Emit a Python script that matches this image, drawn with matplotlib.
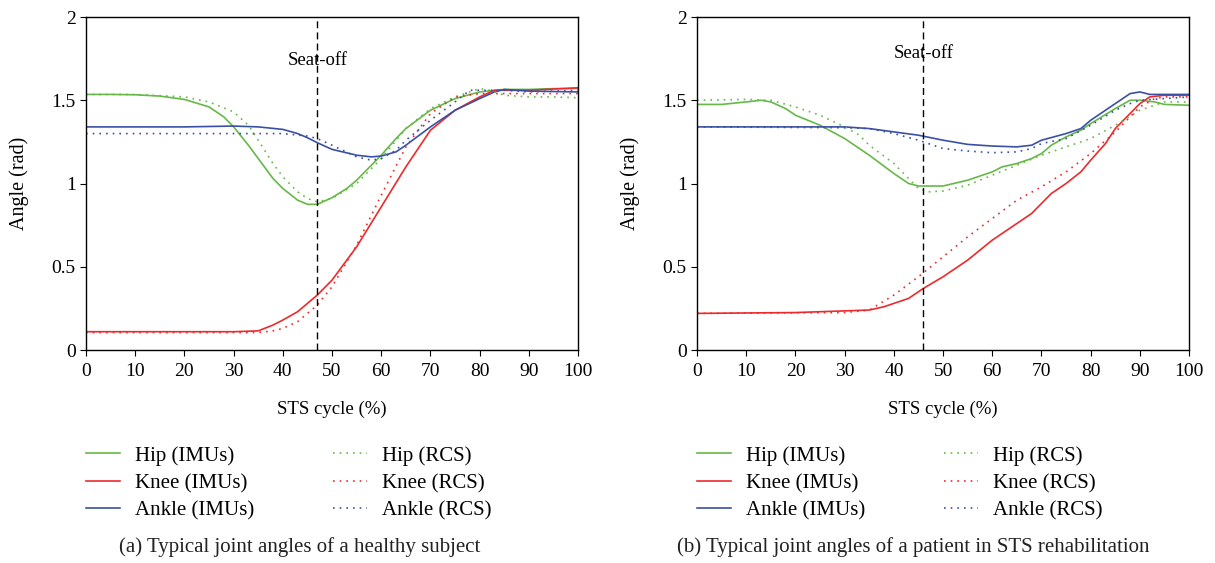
import matplotlib.pyplot as plt

plt.rcParams["font.family"] = ["Liberation Serif", "DejaVu Serif"]
plt.rcParams["font.size"] = 14

GREEN = "#66b847"
RED = "#ec2a2c"
BLUE = "#3a50a4"

# (a) healthy subject
a_hip_imu_x = [0, 5, 10, 15, 20, 25, 28, 30, 33, 35, 38, 40, 43, 45, 47, 50, 53, 55, 58, 60, 63, 65, 70, 75, 80, 85, 90, 95, 100]
a_hip_imu_y = [1.535, 1.535, 1.533, 1.525, 1.505, 1.46, 1.40, 1.34, 1.23, 1.15, 1.03, 0.97, 0.90, 0.875, 0.875, 0.915, 0.97, 1.02, 1.11, 1.17, 1.27, 1.33, 1.44, 1.51, 1.55, 1.565, 1.565, 1.57, 1.57]
a_hip_rcs_x = [0, 10, 20, 25, 30, 33, 35, 38, 40, 43, 45, 47, 50, 55, 60, 65, 70, 75, 80, 82, 85, 90, 95, 100]
a_hip_rcs_y = [1.535, 1.535, 1.52, 1.49, 1.43, 1.35, 1.26, 1.12, 1.04, 0.95, 0.91, 0.89, 0.91, 1.00, 1.15, 1.33, 1.45, 1.52, 1.57, 1.56, 1.53, 1.52, 1.52, 1.515]
a_knee_imu_x = [0, 10, 20, 30, 35, 38, 40, 43, 45, 47, 50, 55, 60, 65, 70, 75, 80, 83, 90, 100]
a_knee_imu_y = [0.11, 0.11, 0.11, 0.11, 0.115, 0.15, 0.18, 0.23, 0.28, 0.33, 0.42, 0.62, 0.86, 1.10, 1.32, 1.44, 1.52, 1.56, 1.56, 1.575]
a_knee_rcs_x = [0, 10, 20, 30, 35, 38, 40, 43, 45, 47, 50, 55, 60, 65, 70, 75, 80, 85, 90, 100]
a_knee_rcs_y = [0.105, 0.105, 0.105, 0.105, 0.105, 0.115, 0.13, 0.17, 0.22, 0.27, 0.38, 0.63, 0.93, 1.22, 1.42, 1.52, 1.54, 1.54, 1.54, 1.54]
a_ankle_imu_x = [0, 10, 20, 30, 35, 40, 43, 45, 47, 50, 55, 58, 60, 63, 65, 70, 75, 80, 83, 85, 90, 100]
a_ankle_imu_y = [1.34, 1.34, 1.34, 1.345, 1.34, 1.325, 1.30, 1.275, 1.245, 1.205, 1.17, 1.16, 1.165, 1.19, 1.23, 1.34, 1.44, 1.51, 1.55, 1.565, 1.555, 1.55]
a_ankle_rcs_x = [0, 10, 20, 30, 40, 45, 47, 50, 55, 58, 60, 63, 65, 70, 75, 78, 80, 85, 90, 100]
a_ankle_rcs_y = [1.30, 1.30, 1.30, 1.30, 1.30, 1.285, 1.27, 1.23, 1.16, 1.14, 1.15, 1.20, 1.26, 1.38, 1.49, 1.56, 1.56, 1.56, 1.55, 1.56]
a_seat_off = 47

# (b) patient in STS rehabilitation
b_hip_imu_x = [0, 5, 10, 13, 15, 18, 20, 25, 30, 35, 40, 43, 45, 50, 55, 60, 62, 65, 68, 70, 72, 75, 78, 80, 85, 88, 90, 93, 95, 100]
b_hip_imu_y = [1.475, 1.475, 1.49, 1.50, 1.49, 1.45, 1.41, 1.35, 1.27, 1.17, 1.06, 1.00, 0.985, 0.985, 1.02, 1.07, 1.10, 1.12, 1.15, 1.18, 1.23, 1.28, 1.32, 1.36, 1.45, 1.50, 1.50, 1.49, 1.475, 1.47]
b_hip_rcs_x = [0, 10, 15, 20, 25, 30, 33, 35, 40, 43, 45, 47, 50, 55, 60, 65, 70, 75, 80, 85, 90, 95, 100]
b_hip_rcs_y = [1.50, 1.505, 1.50, 1.46, 1.41, 1.34, 1.29, 1.23, 1.12, 1.03, 0.97, 0.95, 0.955, 0.99, 1.05, 1.11, 1.17, 1.22, 1.27, 1.35, 1.44, 1.49, 1.49]
b_knee_imu_x = [0, 20, 30, 35, 38, 40, 43, 46, 50, 55, 60, 65, 68, 70, 72, 75, 78, 80, 83, 85, 88, 90, 92, 95, 100]
b_knee_imu_y = [0.22, 0.225, 0.235, 0.24, 0.26, 0.28, 0.31, 0.37, 0.44, 0.54, 0.66, 0.76, 0.82, 0.88, 0.94, 1.00, 1.07, 1.14, 1.24, 1.33, 1.42, 1.48, 1.52, 1.53, 1.53]
b_knee_rcs_x = [0, 30, 35, 40, 45, 50, 55, 60, 65, 70, 75, 80, 85, 88, 90, 93, 95, 100]
b_knee_rcs_y = [0.22, 0.225, 0.24, 0.33, 0.44, 0.56, 0.68, 0.79, 0.90, 0.98, 1.07, 1.18, 1.31, 1.40, 1.46, 1.51, 1.52, 1.52]
b_ankle_imu_x = [0, 20, 30, 35, 40, 45, 50, 55, 60, 65, 68, 70, 75, 78, 80, 85, 88, 90, 92, 95, 100]
b_ankle_imu_y = [1.34, 1.34, 1.34, 1.33, 1.31, 1.29, 1.26, 1.235, 1.225, 1.22, 1.23, 1.26, 1.30, 1.33, 1.38, 1.48, 1.54, 1.55, 1.535, 1.535, 1.535]
b_ankle_rcs_x = [0, 30, 35, 40, 45, 50, 55, 60, 65, 68, 70, 75, 80, 85, 88, 90, 95, 100]
b_ankle_rcs_y = [1.34, 1.335, 1.33, 1.30, 1.26, 1.21, 1.195, 1.185, 1.19, 1.21, 1.24, 1.27, 1.35, 1.44, 1.48, 1.50, 1.51, 1.52]
b_seat_off = 46

xticks = list(range(0, 101, 10))
yticks = [0, 0.5, 1, 1.5, 2]
ytick_labels = ["0", "0.5", "1", "1.5", "2"]
captions = [
    "(a) Typical joint angles of a healthy subject",
    "(b) Typical joint angles of a patient in STS rehabilitation",
]

DOT = (0, (1, 3))


def draw_panel(ax, series, seat_off, seat_y):
    for x, y, color, style, label in series:
        ax.plot(x, y, color=color, linestyle=style, linewidth=1.2, label=label)
    ax.axvline(seat_off, color="black", linestyle=(0, (5, 3)), linewidth=1.0)
    ax.text(seat_off, seat_y, "Seat-off", ha="center", va="center", fontsize=13.5)
    ax.set_xlim(0, 100)
    ax.set_ylim(0, 2)
    ax.set_xticks(xticks)
    ax.set_yticks(yticks)
    ax.set_yticklabels(ytick_labels)
    ax.set_xlabel("STS cycle (%)", fontsize=13.5, labelpad=15)
    ax.set_ylabel("Angle (rad)", fontsize=14.5, labelpad=16)
    ax.tick_params(direction="out", length=4, width=0.8, labelsize=14)
    ax.tick_params(axis="x", pad=5)
    for spine in ax.spines.values():
        spine.set_linewidth(1.0)


fig = plt.figure(figsize=(12.15, 5.63), dpi=100)
ax_a = fig.add_axes([0.0708, 0.3783, 0.405, 0.5915])
ax_b = fig.add_axes([0.5737, 0.3783, 0.405, 0.5915])

series_a = [
    (a_hip_imu_x, a_hip_imu_y, GREEN, "-", "Hip (IMUs)"),
    (a_knee_imu_x, a_knee_imu_y, RED, "-", "Knee (IMUs)"),
    (a_ankle_imu_x, a_ankle_imu_y, BLUE, "-", "Ankle (IMUs)"),
    (a_hip_rcs_x, a_hip_rcs_y, GREEN, DOT, "Hip (RCS)"),
    (a_knee_rcs_x, a_knee_rcs_y, RED, DOT, "Knee (RCS)"),
    (a_ankle_rcs_x, a_ankle_rcs_y, BLUE, DOT, "Ankle (RCS)"),
]
series_b = [
    (b_hip_imu_x, b_hip_imu_y, GREEN, "-", "Hip (IMUs)"),
    (b_knee_imu_x, b_knee_imu_y, RED, "-", "Knee (IMUs)"),
    (b_ankle_imu_x, b_ankle_imu_y, BLUE, "-", "Ankle (IMUs)"),
    (b_hip_rcs_x, b_hip_rcs_y, GREEN, DOT, "Hip (RCS)"),
    (b_knee_rcs_x, b_knee_rcs_y, RED, DOT, "Knee (RCS)"),
    (b_ankle_rcs_x, b_ankle_rcs_y, BLUE, DOT, "Ankle (RCS)"),
]

draw_panel(ax_a, series_a, a_seat_off, 1.74)
draw_panel(ax_b, series_b, b_seat_off, 1.78)

for ax, left in ((ax_a, 0.0708), (ax_b, 0.5737)):
    fig.legend(
        handles=ax.get_lines()[:6],
        loc="upper left",
        bbox_to_anchor=(left, 0.208),
        ncol=2,
        frameon=False,
        fontsize=15,
        borderpad=0,
        borderaxespad=0,
        handlelength=1.63,
        handletextpad=0.72,
        columnspacing=3.8,
        labelspacing=0.38,
    )

fig.text(0.247, 0.028, captions[0], ha="center", va="center", fontsize=15, color="#222222")
fig.text(0.752, 0.028, captions[1], ha="center", va="center", fontsize=15, color="#222222")

fig.savefig("out.png", dpi=100)
